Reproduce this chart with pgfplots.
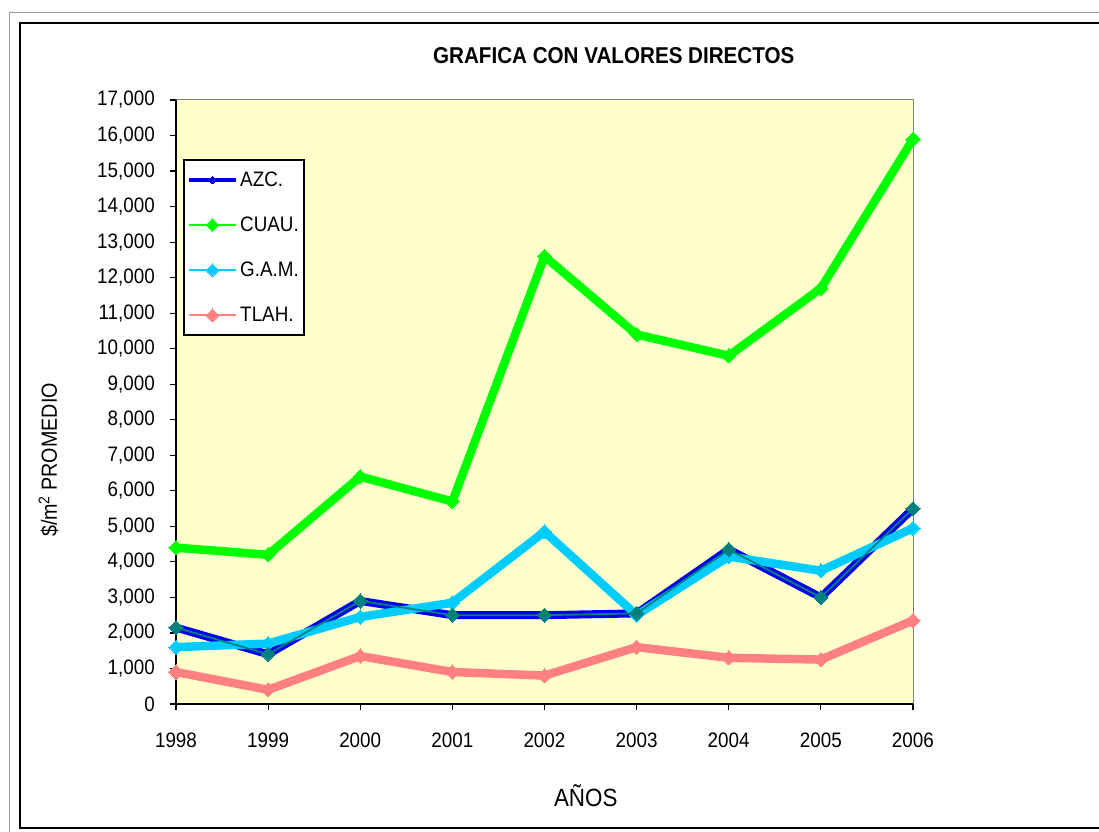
\documentclass[border=0pt]{standalone}
\usepackage{pgfplots}
\pgfplotsset{compat=1.18}
\usepackage{fontspec}
\setmainfont{Liberation Sans}[FakeStretch=0.9]

\definecolor{clrAzc}{HTML}{0000EE}
\definecolor{clrCuau}{HTML}{00FF00}
\definecolor{clrGam}{HTML}{00CCFF}
\definecolor{clrTlah}{HTML}{FF8080}
\definecolor{clrTeal}{HTML}{008080}
\definecolor{clrBg}{HTML}{FFFFCC}

\begin{document}
\begin{tikzpicture}
    \useasboundingbox (0,0) rectangle (1099bp,832bp);
    % chart frame
    \draw[gray!80, line width=1bp] (9bp,-20bp) -- (9bp,819bp) -- (1120bp,819bp);
    \draw[black, line width=2bp] (1120bp,4bp) -- (20bp,4bp) -- (20bp,809bp) -- (1120bp,809bp);

    \begin{axis}[
        at={(176bp,128bp)},
        anchor=south west,
        scale only axis,
        width=737bp,
        height=604bp,
        xmin=1998, xmax=2006,
        ymin=0, ymax=17000,
        xtick={1998,...,2006},
        ytick={0,1000,...,17000},
        xtick pos=left, ytick pos=left,
        tick align=outside,
        major tick length=6bp,
        tick style={black, line width=1.2bp},
        axis line style={draw=none},
        axis background/.style={fill=clrBg},
        clip=false,
        scaled y ticks=false,
        /pgf/number format/assume math mode=true,
        tick label style={font=\fontsize{21}{24}\selectfont},
        yticklabel style={/pgf/number format/1000 sep={,}, anchor=east, inner sep=0pt, xshift=-15bp},
        xticklabel style={/pgf/number format/1000 sep={}, anchor=north, inner sep=0pt, yshift=-23bp},
        title={GRAFICA CON VALORES DIRECTOS},
        title style={font=\bfseries\fontsize{23}{27}\selectfont, at={(axis description cs:0.594,1)}, anchor=base, inner sep=0pt, yshift=31bp},
        xlabel={AÑOS},
        xlabel style={font=\fontsize{25}{29}\selectfont, at={(axis description cs:0.556,0)}, anchor=base, inner sep=0pt, yshift=-102bp},
        ylabel={\$/m\textsuperscript{2} PROMEDIO},
        ylabel style={font=\fontsize{22}{25}\selectfont, at={(axis description cs:-0.1615,0.404)}, anchor=base, inner sep=0pt},
        legend style={
            at={(axis description cs:0.0095,0.902)}, anchor=north west,
            draw=black, line width=1.5bp, fill=white,
            font=\fontsize{21}{24}\selectfont,
            row sep=25bp, inner xsep=3bp, inner ysep=10bp,
        },
        legend cell align=left,
        legend image code/.code={
            \draw[mark repeat=2, mark phase=2, #1] plot coordinates {(0bp,0bp) (23.5bp,0bp) (47bp,0bp)};
        },
    ]
    % legend samples
    \addlegendimage{clrAzc, line width=4.5bp, mark=square*, mark size=2.8bp, mark options={rotate=45, solid, line width=0bp, fill=clrAzc}}
    \addlegendimage{clrCuau, line width=2.5bp, mark=square*, mark size=4.5bp, mark options={rotate=45, line width=0bp, fill=clrCuau}}
    \addlegendimage{clrGam, line width=2.5bp, mark=square*, mark size=4.5bp, mark options={rotate=45, line width=0bp, fill=clrGam}}
    \addlegendimage{clrTlah, line width=2.5bp, mark=square*, mark size=4.5bp, mark options={rotate=45, line width=0bp, fill=clrTlah}}

    % AZC.
    \addplot[forget plot, clrAzc, line width=8bp, line join=round] coordinates {
        (1998,2150) (1999,1400) (2000,2900) (2001,2500) (2002,2500)
        (2003,2550) (2004,4350) (2005,3000) (2006,5500)
    };
    % CUAU.
    \addplot[forget plot, clrCuau, line width=8.5bp, line join=round, mark=square*, mark size=5bp,
        mark options={rotate=45, line width=0bp, fill=clrCuau}] coordinates {
        (1998,4400) (1999,4200) (2000,6400) (2001,5700) (2002,12600)
        (2003,10400) (2004,9800) (2005,11700) (2006,15900)
    };
    % G.A.M.
    \addplot[forget plot, clrGam, line width=8.5bp, line join=round, mark=square*, mark size=5bp,
        mark options={rotate=45, line width=0bp, fill=clrGam}] coordinates {
        (1998,1600) (1999,1700) (2000,2450) (2001,2850) (2002,4850)
        (2003,2500) (2004,4150) (2005,3750) (2006,4950)
    };
    % TLAH.
    \addplot[forget plot, clrTlah, line width=8.5bp, line join=round, mark=square*, mark size=5bp,
        mark options={rotate=45, line width=0bp, fill=clrTlah}] coordinates {
        (1998,900) (1999,400) (2000,1350) (2001,900) (2002,800)
        (2003,1600) (2004,1300) (2005,1250) (2006,2350)
    };
    % teal overlay on AZC.
    \addplot[forget plot, clrTeal, line width=1.8bp, mark=square*, mark size=5bp,
        mark options={rotate=45, line width=0bp, fill=clrTeal}] coordinates {
        (1998,2150) (1999,1400) (2000,2900) (2001,2500) (2002,2500)
        (2003,2550) (2004,4350) (2005,3000) (2006,5500)
    };

    % plot area border
    \draw[black, line width=1.5bp] (rel axis cs:0,1) -- (rel axis cs:0,0) -- (rel axis cs:1,0);
    \draw[gray, line width=1bp] (rel axis cs:0,1) -- (rel axis cs:1,1) -- (rel axis cs:1,0);

    \legend{AZC., CUAU., G.A.M., TLAH.}
    \end{axis}
\end{tikzpicture}
\end{document}
